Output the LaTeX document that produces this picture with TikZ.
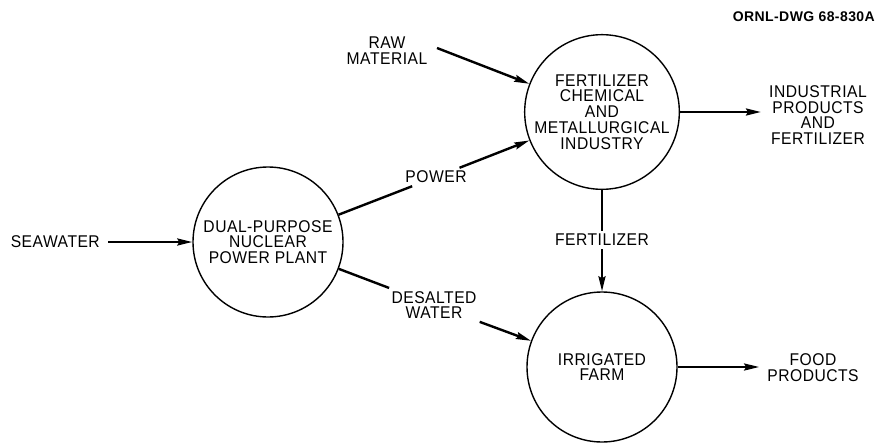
\documentclass[tikz,border=0pt]{standalone}
\usepackage{fontspec}
\setmainfont{Liberation Sans}[LetterSpace=3,FakeStretch=0.92]
\newfontfamily\dwgfont{Liberation Sans}[LetterSpace=3]
\usetikzlibrary{arrows.meta}
\newcommand\lblfont{\fontsize{17}{15.8}\selectfont}
\begin{document}
\begin{tikzpicture}[x=1pt,y=-1pt,
  unit/.style={circle, draw, line width=1.4pt, minimum size=150pt, inner sep=0pt,
    align=center, font=\lblfont},
  lbl/.style={align=center, font=\lblfont, inner sep=3pt},
  outlbl/.style={align=center, font=\lblfont, inner ysep=3pt, inner xsep=8pt},
  flow/.style={line width=2.4pt, -{Stealth[length=15pt,width=7pt,inset=2pt]}},
  seg/.style={line width=2.4pt}]
\useasboundingbox (0,0) rectangle (877,444);

\node[unit] (plant) at (268,242) {DUAL-PURPOSE\\NUCLEAR\\POWER PLANT};
\node[unit] (chem) at (602,112) {FERTILIZER\\CHEMICAL\\AND\\METALLURGICAL\\INDUSTRY};
\node[unit] (farm) at (602,367) {IRRIGATED\\FARM};

\node[outlbl, anchor=east] (sea) at (108,242) {SEAWATER};
\node[lbl] (raw) at (387,51) {RAW\\MATERIAL};
\coordinate (rawstart) at (437,48);
\node[lbl] (power) at (436,177) {POWER};
\node[lbl] (desal) at (434,305) {DESALTED\\WATER};
\node[lbl] (fert) at (602,240) {FERTILIZER};
\node[outlbl] (indout) at (818,115) {INDUSTRIAL\\PRODUCTS\\AND\\FERTILIZER};
\node[outlbl] (food) at (813,368) {FOOD\\PRODUCTS};
\node[anchor=east, inner sep=0pt, font=\dwgfont\fontsize{14}{14}\selectfont\bfseries] (dwg) at (875,17) {ORNL-DWG 68-830A};

\draw[flow] (sea) -- (plant);
\draw[flow] (rawstart) -- (chem);
\draw[seg] (plant) -- (power);
\draw[flow] (power) -- (chem);
\draw[seg] (plant) -- (desal);
\draw[flow] (desal) -- (farm);
\draw[seg] (chem) -- (fert);
\draw[flow] (fert) -- (farm);
\draw[flow] (chem.east) -- (indout.west |- chem.east);
\draw[flow] (farm.east) -- (food.west |- farm.east);
\end{tikzpicture}
\end{document}
